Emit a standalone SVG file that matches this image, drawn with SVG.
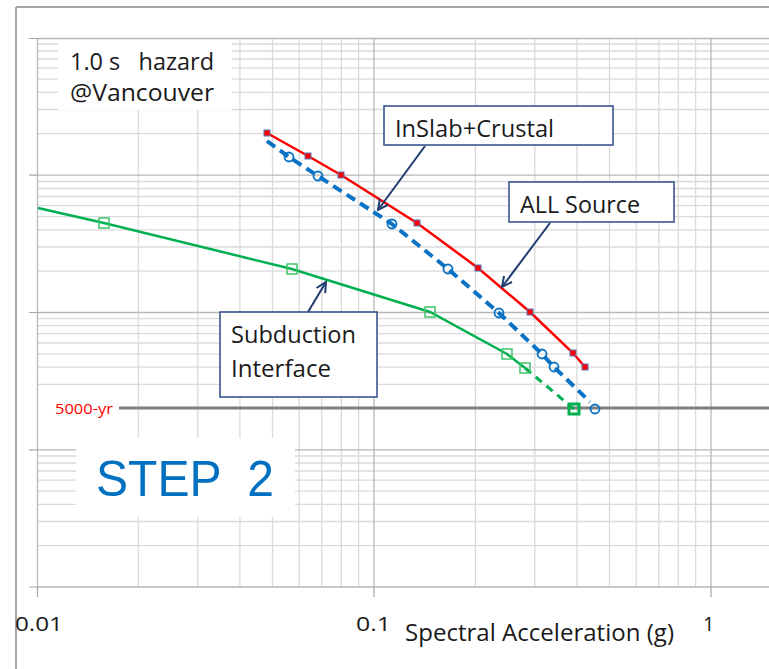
<svg xmlns="http://www.w3.org/2000/svg" width="769" height="669" viewBox="0 0 769 669">
<defs>
<style>
.minor{stroke:#dadada;stroke-width:1.3;fill:none}
.major{stroke:#b8b8b8;stroke-width:1.3;fill:none}
.tick{stroke:#a6a6a6;stroke-width:1.2;fill:none}
.frame{stroke:#8a8a8a;stroke-width:1.5;fill:none}
.lbl{font-family:"Open Sans","Noto Sans",sans-serif;fill:#1a1a1a;white-space:pre}
.box{fill:#ffffff;stroke:#3a5390;stroke-width:1.6}
.arrow{stroke:#1f3b70;stroke-width:2;fill:none;marker-end:url(#head)}
.red{stroke:#ff0000;stroke-width:2.5;fill:none}
.blue{stroke:#0a72c4;stroke-width:4;stroke-dasharray:10 6;fill:none}
.green{stroke:#00b050;stroke-width:2.5;fill:none}
.gdash{stroke:#00b050;stroke-width:3;stroke-dasharray:8 6;fill:none}
.rmk{fill:#ff0000;stroke:#5a78b8;stroke-width:1}
.bmk{fill:none;stroke:#0a72c4;stroke-width:1.8}
.gmk{fill:none;stroke:#3cc46a;stroke-width:1.5}
</style>
<marker id="head" viewBox="0 0 12 12" refX="11" refY="6" markerWidth="12" markerHeight="12" markerUnits="userSpaceOnUse" orient="auto">
<path d="M1,1 L11,6 L1,11" fill="none" stroke="#1f3b70" stroke-width="2"/>
</marker>
</defs>
<rect width="769" height="669" fill="#ffffff"/>

<g id="grid">
<!-- horizontal minor lines -->
<path class="minor" d="M38,44 H769 M38,51 H769 M38,59 H769 M38,68.2 H769 M38,79.1 H769 M38,92.4 H769 M38,109.5 H769 M38,133.7 H769
M38,181.5 H769 M38,188.5 H769 M38,196.5 H769 M38,205.7 H769 M38,216.6 H769 M38,229.9 H769 M38,247 H769 M38,271.2 H769
M38,318.7 H769 M38,325.7 H769 M38,333.7 H769 M38,343 H769 M38,353.9 H769 M38,367.2 H769 M38,384.3 H769
M38,456 H769 M38,463 H769 M38,471 H769 M38,480.2 H769 M38,491.1 H769 M38,504.4 H769 M38,521.5 H769 M38,545.7 H769"/>
<!-- vertical minor lines -->
<path class="minor" d="M138.4,38 V587 M197.8,38 V587 M239.9,38 V587 M272.5,38 V587 M299.2,38 V587 M321.8,38 V587 M341.3,38 V587 M358.6,38 V587
M475.4,38 V587 M534.8,38 V587 M576.9,38 V587 M609.5,38 V587 M636.2,38 V587 M658.8,38 V587 M678.3,38 V587 M695.6,38 V587"/>
<!-- major lines -->
<path class="major" d="M38,38.5 H769 M38,175.2 H769 M38,312.5 H769 M38,449.8 H769 M38,587 H769 M37.5,38 V587 M374,38 V587 M711,38 V587"/>
<!-- ticks -->
<path class="tick" d="M29,38.5 H38 M29,175.2 H38 M29,312.5 H38 M29,449.8 H38 M29,587 H38 M37.5,587 V597 M374,587 V597 M711,587 V597"/>
</g>

<g id="frame">
<path class="frame" d="M16,7 H769 M16,7 V669"/>
</g>

<g id="title">
<rect x="58" y="40" width="174" height="70" fill="#ffffff"/>
<text class="lbl" x="70" y="70" font-size="24" textLength="144" lengthAdjust="spacingAndGlyphs">1.0 s   hazard</text>
<text class="lbl" x="70" y="101" font-size="24" textLength="144" lengthAdjust="spacingAndGlyphs">@Vancouver</text>
</g>

<g id="step2">
<rect x="76" y="438" width="219" height="79" fill="#ffffff"/>
<text x="96" y="496" font-family="Liberation Sans, Arial, sans-serif" font-size="50" fill="#0070c0" style="white-space:pre" textLength="178" lengthAdjust="spacingAndGlyphs">STEP  2</text>
</g>

<g id="return-period">
<line x1="119" y1="408" x2="769" y2="408" stroke="#7f7f7f" stroke-width="3"/>
<text x="55" y="414" font-family="Open Sans, Noto Sans, sans-serif" font-size="15" fill="#ff0000" textLength="58" lengthAdjust="spacingAndGlyphs">5000-yr</text>
</g>

<g id="series-subduction">
<polyline class="green" points="38,208 104,223 292,269 430,312 507,354 525,368"/>
<polyline class="gdash" points="525,368 574,409"/>
<rect class="gmk" x="99" y="218" width="10" height="10"/>
<rect class="gmk" x="287" y="264" width="10" height="10"/>
<rect class="gmk" x="425" y="307" width="10" height="10"/>
<rect class="gmk" x="502" y="349" width="10" height="10"/>
<rect class="gmk" x="520" y="363" width="10" height="10"/>
<rect x="569" y="404" width="10" height="10" fill="none" stroke="#00b050" stroke-width="3"/>
</g>

<g id="series-inslab">
<polyline class="blue" points="267,141 289,157 318,176 392,224 448,269 499,313 542,354 554,367 590,402"/>
<circle class="bmk" cx="289" cy="157" r="4.5"/>
<circle class="bmk" cx="318" cy="176" r="4.5"/>
<circle class="bmk" cx="392" cy="224" r="4.5"/>
<circle class="bmk" cx="448" cy="269" r="4.5"/>
<circle class="bmk" cx="499" cy="313" r="4.5"/>
<circle class="bmk" cx="542" cy="354" r="4.5"/>
<circle class="bmk" cx="554" cy="367" r="4.5"/>
<circle class="bmk" cx="595" cy="409" r="4.5"/>
</g>

<g id="series-all">
<polyline class="red" points="267,133 308,156 341,175 417,223 478,268 530,312 573,353 585,367"/>
<rect class="rmk" x="264" y="130" width="6" height="6"/>
<rect class="rmk" x="305" y="153" width="6" height="6"/>
<rect class="rmk" x="338" y="172" width="6" height="6"/>
<rect class="rmk" x="414" y="220" width="6" height="6"/>
<rect class="rmk" x="475" y="265" width="6" height="6"/>
<rect class="rmk" x="527" y="309" width="6" height="6"/>
<rect class="rmk" x="570" y="350" width="6" height="6"/>
<rect class="rmk" x="582" y="364" width="6" height="6"/>
</g>

<g id="connectors">
<line class="arrow" x1="425" y1="146" x2="378" y2="210"/>
<line class="arrow" x1="550" y1="223" x2="502" y2="287"/>
<line class="arrow" x1="308" y1="312" x2="326" y2="282"/>
</g>

<g id="callout-inslab">
<rect class="box" x="384" y="106" width="229" height="39"/>
<text class="lbl" x="395" y="137" font-size="23" textLength="159" lengthAdjust="spacingAndGlyphs">InSlab+Crustal</text>
</g>

<g id="callout-all">
<rect class="box" x="509" y="182" width="165" height="40"/>
<text class="lbl" x="520" y="213" font-size="23" textLength="120" lengthAdjust="spacingAndGlyphs">ALL Source</text>
</g>

<g id="callout-subduction">
<rect class="box" x="220" y="312" width="157" height="85"/>
<text class="lbl" x="231" y="343" font-size="23" textLength="125" lengthAdjust="spacingAndGlyphs">Subduction</text>
<text class="lbl" x="231" y="377" font-size="23" textLength="100" lengthAdjust="spacingAndGlyphs">Interface</text>
</g>

<g id="axis-labels">
<text class="lbl" x="15" y="631" font-size="20" textLength="48" lengthAdjust="spacingAndGlyphs">0.01</text>
<text class="lbl" x="356" y="631" font-size="20" textLength="35" lengthAdjust="spacingAndGlyphs">0.1</text>
<text class="lbl" x="703" y="631" font-size="20">1</text>
<text class="lbl" x="405" y="641" font-size="23" textLength="269" lengthAdjust="spacingAndGlyphs">Spectral Acceleration (g)</text>
</g>
</svg>
